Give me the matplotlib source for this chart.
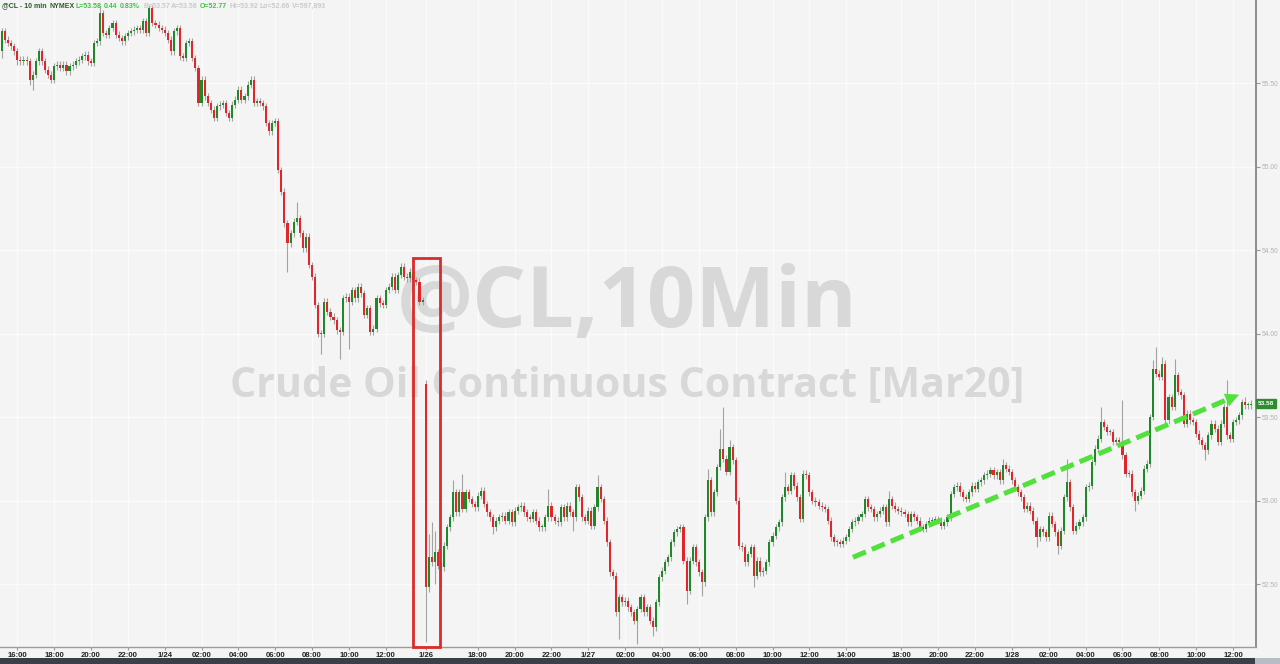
import matplotlib
matplotlib.use('Agg')
import matplotlib.pyplot as plt
import numpy as np
from matplotlib.patches import Rectangle

# ── 10 min closes, @CL (Mar20) ──────────────────────────────────────────────
closes = [
    # 1/23 afternoon .. 1/24
    55.81, 55.76, 55.74, 55.72, 55.69, 55.64, 55.63, 55.64, 55.63, 55.52,
    55.55, 55.63, 55.69, 55.63, 55.58, 55.55, 55.52, 55.60, 55.61, 55.59,
    55.61, 55.57, 55.60, 55.61, 55.63, 55.64, 55.66, 55.67, 55.63, 55.62,
    55.74, 55.75, 55.92, 55.80, 55.79, 55.83, 55.86, 55.79, 55.77, 55.75,
    55.78, 55.80, 55.81, 55.82, 55.83, 55.82, 55.87, 55.80, 55.95, 55.86,
    55.85, 55.83, 55.82, 55.80, 55.76, 55.69, 55.81, 55.83, 55.66, 55.65,
    55.74, 55.75, 55.65, 55.59, 55.38, 55.52, 55.42, 55.38, 55.34, 55.29,
    55.36, 55.37, 55.38, 55.32, 55.29, 55.37, 55.40, 55.46, 55.40, 55.42,
    55.49, 55.52, 55.38, 55.39, 55.38, 55.36, 55.26, 55.21, 55.26, 55.27,
    54.98, 54.85, 54.66, 54.54, 54.60, 54.67, 54.69, 54.60, 54.51, 54.58,
    54.41, 54.34, 54.17, 54.00, 54.00, 54.19, 54.13, 54.10, 54.08, 54.02,
    54.01, 54.21, 54.22, 54.19, 54.26, 54.21, 54.28, 54.24, 54.11, 54.15,
    54.01, 54.03, 54.21, 54.18, 54.17, 54.26, 54.28, 54.34, 54.26, 54.35,
    54.40, 54.34, 54.33, 54.37, 54.32, 54.31, 54.19, 54.20,
    # 1/26 open .. 1/28
    52.48, 52.66, 52.63, 52.69, 52.61, 52.60, 52.73, 52.84, 52.90, 53.05,
    52.93, 53.05, 52.95, 53.05, 53.01, 52.98, 52.96, 53.03, 53.06, 52.98,
    52.93, 52.90, 52.84, 52.88, 52.90, 52.91, 52.88, 52.93, 52.87, 52.94,
    52.96, 52.97, 52.93, 52.90, 52.89, 52.93, 52.88, 52.84, 52.84, 52.90,
    52.97, 52.90, 52.88, 52.87, 52.96, 52.90, 52.97, 52.93, 52.90, 53.08,
    53.02, 52.90, 52.88, 52.94, 52.85, 52.96, 53.08, 53.01, 52.88, 52.75,
    52.57, 52.55, 52.33, 52.42, 52.39, 52.40, 52.36, 52.33, 52.28, 52.35,
    52.42, 52.33, 52.36, 52.28, 52.24, 52.39, 52.54, 52.58, 52.63, 52.66,
    52.75, 52.81, 52.83, 52.84, 52.64, 52.46, 52.64, 52.72, 52.63, 52.57,
    52.51, 52.90, 53.12, 52.93, 53.05, 53.20, 53.31, 53.25, 53.17, 53.32,
    53.24, 53.00, 52.73, 52.72, 52.63, 52.68, 52.72, 52.55, 52.64, 52.57,
    52.58, 52.63, 52.75, 52.79, 52.84, 52.87, 53.02, 53.08, 53.06, 53.15,
    53.09, 53.02, 52.89, 53.16, 53.15, 53.05, 53.00, 52.99, 52.97, 52.96,
    52.95, 52.88, 52.78, 52.75, 52.75, 52.74, 52.76, 52.78, 52.83, 52.87,
    52.88, 52.90, 52.92, 53.01, 52.96, 52.95, 52.90, 52.92, 52.94, 52.96,
    52.87, 53.01, 52.97, 52.95, 52.94, 52.93, 52.92, 52.87, 52.92, 52.90,
    52.88, 52.84, 52.83, 52.86, 52.88, 52.88, 52.89, 52.88, 52.85, 52.87,
    52.90, 53.04, 53.08, 53.09, 53.05, 53.02, 53.01, 53.05, 53.09, 53.07,
    53.11, 53.12, 53.15, 53.16, 53.18, 53.15, 53.17, 53.12, 53.21, 53.19,
    53.17, 53.12, 53.08, 53.05, 53.02, 52.95, 52.97, 52.94, 52.88, 52.78,
    52.83, 52.81, 52.78, 52.91, 52.86, 52.81, 52.73, 52.82, 53.02, 53.11,
    52.96, 52.82, 52.85, 52.87, 52.90, 53.08, 53.09, 53.23, 53.31, 53.37,
    53.47, 53.44, 53.41, 53.41, 53.35, 53.36, 53.35, 53.27, 53.16, 53.16,
    53.05, 53.00, 53.03, 53.06, 53.19, 53.22, 53.50, 53.79, 53.76, 53.74,
    53.82, 53.48, 53.62, 53.56, 53.75, 53.65, 53.63, 53.46, 53.52, 53.48,
    53.47, 53.40, 53.36, 53.33, 53.30, 53.39, 53.46, 53.43, 53.35, 53.46,
    53.56, 53.39, 53.37, 53.47, 53.48, 53.51, 53.59, 53.57, 53.57, 53.58,
]
first_open = 55.69
gap_opens = {138: 53.70}          # sunday open, gap down
highs_read = {0: 55.83, 32: 55.96, 48: 55.97, 96: 54.79,
              138: 53.72, 139: 52.80, 140: 52.87, 141: 52.82, 147: 53.12, 150: 53.16,
              178: 53.07, 187: 53.10, 194: 53.15, 230: 53.19, 234: 53.43, 235: 53.56,
              237: 53.36, 255: 53.17, 289: 53.06, 326: 53.25, 347: 53.25, 358: 53.56,
              365: 53.60, 375: 53.84, 376: 53.92, 378: 53.86, 382: 53.85, 399: 53.72,
              405: 53.62}
lows_read = {0: 55.65, 5: 55.61, 9: 55.49, 10: 55.46, 93: 54.37, 104: 53.88,
             110: 53.85, 113: 53.91,
             138: 52.15, 139: 52.45, 141: 52.50, 143: 52.48, 160: 52.80, 186: 52.82,
             201: 52.17, 207: 52.14, 212: 52.19, 223: 52.38, 228: 52.43, 245: 52.48,
             337: 52.72, 344: 52.68, 369: 52.94, 392: 53.24}

time_labels = ['16:00', '18:00', '20:00', '22:00', '1/24', '02:00', '04:00', '06:00',
               '08:00', '10:00', '12:00', '1/26', '18:00', '20:00', '22:00', '1/27',
               '02:00', '04:00', '06:00', '08:00', '10:00', '12:00', '14:00', '18:00',
               '20:00', '22:00', '1/28', '02:00', '04:00', '06:00', '08:00', '10:00', '12:00']
time_ticks = [5, 17, 29, 41, 53, 65, 77, 89, 101, 113, 125, 138, 155, 167, 179, 191,
              203, 215, 227, 239, 251, 263, 275, 293, 305, 317, 329, 341, 353, 365,
              377, 389, 401]
price_ticks = [52.5, 53.0, 53.5, 54.0, 54.5, 55.0, 55.5]
last_price = 53.58

header = [('@CL - 10 min', '#2c5a2c', 2), ('NYMEX', '#2c5a2c', 49),
          ('L=53.58', '#3fc23f', 76), ('0.44', '#3fc23f', 104), ('0.83%', '#3fc23f', 120),
          ('B=53.57', '#cacaca', 143), ('A=53.58', '#cacaca', 171),
          ('O=52.77', '#3fc23f', 200), ('Hi=53.92', '#cacaca', 229),
          ('Lo=52.66', '#cacaca', 260), ('V=597,893', '#cacaca', 292)]

# trend arrow and highlight box (bar index / price)
arrow_from = (277.2, 52.66)
arrow_to = (403.8, 53.64)
box_x = (133.9, 142.7)
box_top = 54.45

# ── build OHLC ───────────────────────────────────────────────────────────────
n = len(closes)
idx = np.arange(n)
opens = [first_open] + closes[:-1]
for k, v in gap_opens.items():
    opens[k] = v
o = np.array(opens)
c = np.array(closes)
top = np.maximum(o, c)
bot = np.minimum(o, c)
hi = top + 0.02
lo = bot - 0.02
for k, v in highs_read.items():
    hi[k] = v
for k, v in lows_read.items():
    lo[k] = v
up = c >= o

W, H = 1280, 664
BG = '#f4f4f4'
FONT = 'Liberation Sans'
fig = plt.figure(figsize=(W / 100, H / 100), dpi=100, facecolor=BG)
ax = fig.add_axes([0, 17 / H, 1256 / W, 647 / H])
ax.set_facecolor(BG)
ax.set_xlim(-0.65, 408.5)
ax.set_ylim(52.123, 55.997)

# grid
for t in time_ticks:
    ax.axvline(t, color='#fbfbfb', lw=1.0, zorder=0)
for p in price_ticks:
    ax.axhline(p, color='#fbfbfb', lw=1.0, zorder=0)

# watermark
ax.text(0.499, 0.528, '@CL,10Min', transform=ax.transAxes, ha='center', va='center',
        fontsize=61, fontweight='bold', family='Open Sans', color='#d8d8d8', zorder=1)
ax.text(0.499, 0.403, 'Crude Oil Continuous Contract [Mar20]', transform=ax.transAxes,
        ha='center', va='center', fontsize=29.6, fontweight='bold', family='Open Sans',
        color='#d8d8d8', zorder=1)

# candles
ax.vlines(idx, lo, hi, color='#a3a3a3', lw=0.8, zorder=2)
body_h = np.maximum(top - bot, 0.006)
ax.bar(idx[up], body_h[up], bottom=bot[up], width=0.68, color='#21882a', lw=0, zorder=3)
ax.bar(idx[~up], body_h[~up], bottom=bot[~up], width=0.68, color='#e2252b', lw=0, zorder=3)

# red box
ax.add_patch(Rectangle((box_x[0], 52.123), box_x[1] - box_x[0], box_top - 52.123,
                       fill=False, ec='#dc2b2b', lw=2.0, zorder=5, clip_on=False))

# dashed trend arrow
ax.plot([arrow_from[0], arrow_to[0] - 3], [arrow_from[1], arrow_to[1] - 0.023],
        color='#52e03c', lw=3.6, ls=(0, (2.8, 1.3)), solid_capstyle='butt', zorder=6)
ax.annotate('', xy=arrow_to, xytext=(arrow_to[0] - 4, arrow_to[1] - 0.031),
            arrowprops=dict(arrowstyle='-|>,head_length=0.9,head_width=0.45',
                            color='#52e03c', lw=0.5), zorder=6)

# axes
for s in ['top', 'left']:
    ax.spines[s].set_visible(False)
ax.spines['right'].set_color('#858585')
ax.spines['right'].set_linewidth(1.3)
ax.spines['bottom'].set_color('#9c9c9c')
ax.spines['bottom'].set_linewidth(1.0)
ax.yaxis.tick_right()
ax.set_yticks(price_ticks)
ax.set_yticklabels([f'{p:.2f}' for p in price_ticks])
ax.tick_params(axis='y', length=3, width=0.8, color='#9a9a9a', labelsize=4.8,
               labelcolor='#b3b3b3', pad=0.8)
for lab in ax.get_yticklabels():
    lab.set_family(FONT)
ax.set_xticks(time_ticks)
ax.set_xticklabels(time_labels)
ax.tick_params(axis='x', length=2, width=0.8, color='#9a9a9a', labelsize=5.6,
               labelcolor='#222222', pad=1.5)
for lab in ax.get_xticklabels():
    lab.set_fontweight('bold')
    lab.set_family(FONT)

# last price box
ax.annotate(f'{last_price:.2f}', xy=(1.0, last_price), xycoords=('axes fraction', 'data'),
            xytext=(1.6, 0), textcoords='offset points', ha='left', va='center',
            fontsize=4.6, fontweight='bold', color='white', family=FONT,
            bbox=dict(boxstyle='square,pad=0.3', fc='#2f8c2f', ec='#2f8c2f'))

# header
for txt, col, xp in header:
    fig.text(xp / W, 1 - 6 / H, txt, color=col, fontsize=5.0, fontweight='bold',
             family=FONT, ha='left', va='center')

# bottom status band
fig.patches.append(Rectangle((0, 0), 1, 6.5 / H, transform=fig.transFigure,
                             fc='#3b4048', ec='none'))
fig.patches.append(Rectangle((1255 / W, 0), 25 / W, 6.5 / H, transform=fig.transFigure,
                             fc='#b8bdc5', ec='none'))

fig.savefig('out.png', dpi=100, facecolor=BG)
